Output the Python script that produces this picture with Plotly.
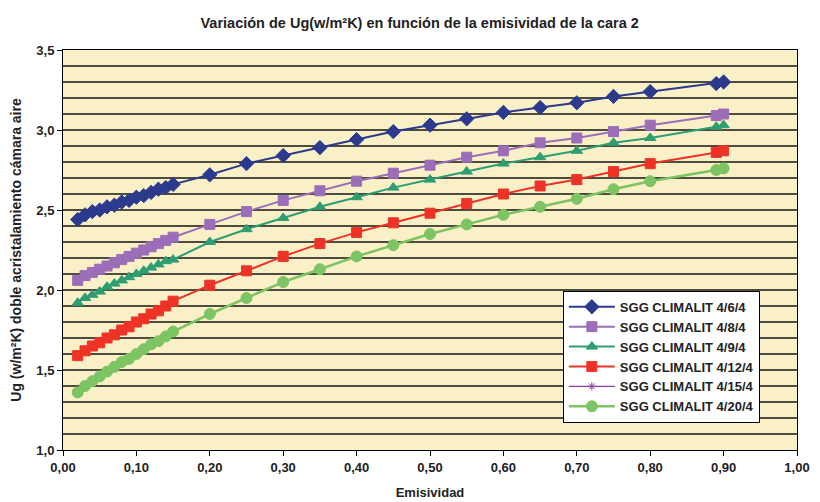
import plotly.graph_objects as go

emisividad = [0.02, 0.03, 0.04, 0.05, 0.06, 0.07, 0.08, 0.09, 0.10, 0.11, 0.12, 0.13, 0.14, 0.15,
              0.20, 0.25, 0.30, 0.35, 0.40, 0.45, 0.50, 0.55, 0.60, 0.65, 0.70, 0.75, 0.80, 0.89, 0.90]

ug_4_6_4 = [2.44, 2.47, 2.49, 2.50, 2.52, 2.53, 2.55, 2.56, 2.58, 2.59, 2.61, 2.63, 2.64, 2.66,
            2.72, 2.79, 2.84, 2.89, 2.94, 2.99, 3.03, 3.07, 3.11, 3.14, 3.17, 3.21, 3.24, 3.29, 3.30]
ug_4_8_4 = [2.06, 2.09, 2.11, 2.13, 2.15, 2.17, 2.19, 2.21, 2.23, 2.25, 2.27, 2.29, 2.31, 2.33,
            2.41, 2.49, 2.56, 2.62, 2.68, 2.73, 2.78, 2.83, 2.87, 2.92, 2.95, 2.99, 3.03, 3.09, 3.10]
ug_4_9_4 = [1.92, 1.95, 1.97, 1.99, 2.02, 2.04, 2.06, 2.08, 2.10, 2.12, 2.14, 2.16, 2.18, 2.19,
            2.30, 2.38, 2.45, 2.52, 2.58, 2.64, 2.69, 2.74, 2.79, 2.83, 2.87, 2.92, 2.95, 3.02, 3.03]
ug_4_12_4 = [1.59, 1.62, 1.65, 1.67, 1.70, 1.72, 1.75, 1.77, 1.80, 1.82, 1.85, 1.87, 1.90, 1.93,
             2.03, 2.12, 2.21, 2.29, 2.36, 2.42, 2.48, 2.54, 2.60, 2.65, 2.69, 2.74, 2.79, 2.86, 2.87]
ug_4_15_4 = [1.36, 1.40, 1.43, 1.46, 1.49, 1.52, 1.55, 1.57, 1.60, 1.63, 1.66, 1.68, 1.71, 1.74,
             1.85, 1.95, 2.05, 2.13, 2.21, 2.28, 2.35, 2.41, 2.47, 2.52, 2.57, 2.63, 2.68, 2.75, 2.76]
ug_4_20_4 = [1.36, 1.40, 1.43, 1.46, 1.49, 1.52, 1.55, 1.57, 1.60, 1.63, 1.66, 1.68, 1.71, 1.74,
             1.85, 1.95, 2.05, 2.13, 2.21, 2.28, 2.35, 2.41, 2.47, 2.52, 2.57, 2.63, 2.68, 2.75, 2.76]

series_names = ["SGG CLIMALIT 4/6/4", "SGG CLIMALIT 4/8/4", "SGG CLIMALIT 4/9/4",
                "SGG CLIMALIT 4/12/4", "SGG CLIMALIT 4/15/4", "SGG CLIMALIT 4/20/4"]
series_values = [ug_4_6_4, ug_4_8_4, ug_4_9_4, ug_4_12_4, ug_4_15_4, ug_4_20_4]

styles = [
    dict(color="#2B3A8C", symbol="diamond", size=11, width=2),
    dict(color="#9C6DB8", symbol="square", size=10, width=2),
    dict(color="#2E9E72", symbol="triangle-up", size=10, width=2),
    dict(color="#EE3326", symbol="square", size=10, width=2),
    dict(color="#8B3FA8", symbol="asterisk-open", size=7, width=1.2),
    dict(color="#7DC462", symbol="circle", size=11, width=2.5),
]

fig = go.Figure()
for name, vals, st in zip(series_names, series_values, styles):
    fig.add_trace(go.Scatter(
        x=emisividad, y=vals, name="<b>" + name + "</b>", mode="lines+markers",
        line=dict(color=st["color"], width=st["width"]),
        marker=dict(color=st["color"], symbol=st["symbol"], size=st["size"],
                    line=dict(color=st["color"], width=1)),
    ))

font_family = "Liberation Sans, Arial, sans-serif"
txt = "#222222"

# page body adds an 8px offset, so the figure is sized to fit inside the window
fig.update_layout(
    width=812, height=494,
    margin=dict(l=55, r=23, t=42, b=52),
    paper_bgcolor="white",
    plot_bgcolor="#FAF0C8",
    separators=",.",
    font=dict(family=font_family, size=13, color=txt),
    title=dict(text="<b>Variación de Ug(w/m²K) en función de la emisividad de la cara 2</b>",
               x=0.507, xanchor="center", xref="container",
               y=1 - 15 / 494, yanchor="middle", yref="container",
               font=dict(size=14.5, color=txt)),
    showlegend=True,
    legend=dict(x=0.681, y=0.398, xanchor="left", yanchor="top",
                bgcolor="white", bordercolor="black", borderwidth=1,
                font=dict(size=13, color=txt, family=font_family),
                itemwidth=46, tracegroupgap=0),
    xaxis=dict(
        range=[0, 1], dtick=0.1, tick0=0, tickformat=".2f",
        tickprefix="<b>", ticksuffix="</b>",
        showgrid=False, zeroline=False, automargin=False,
        showline=True, linecolor="black", linewidth=1, mirror=True,
        ticks="outside", ticklen=5, tickcolor="black",
        tickfont=dict(size=13, color=txt),
        title=dict(text="<b>Emisividad</b>", font=dict(size=13, color=txt), standoff=14),
    ),
    yaxis=dict(
        range=[1, 3.5], dtick=0.5, tick0=1, tickformat=".1f",
        tickprefix="<b>", ticksuffix="</b>",
        showgrid=True, gridcolor="#4E4C3E", gridwidth=1.5,
        minor=dict(dtick=0.1, showgrid=True, gridcolor="#4E4C3E", gridwidth=1.5),
        zeroline=False, automargin=False,
        showline=True, linecolor="black", linewidth=1, mirror=True,
        ticks="outside", ticklen=5, tickcolor="black",
        tickfont=dict(size=13, color=txt),
        title=dict(text="<b>Ug (w/m²K) doble acristalamiento cámara aire</b>",
                   font=dict(size=14, color=txt), standoff=13),
    ),
)

fig.write_html("out.html")
